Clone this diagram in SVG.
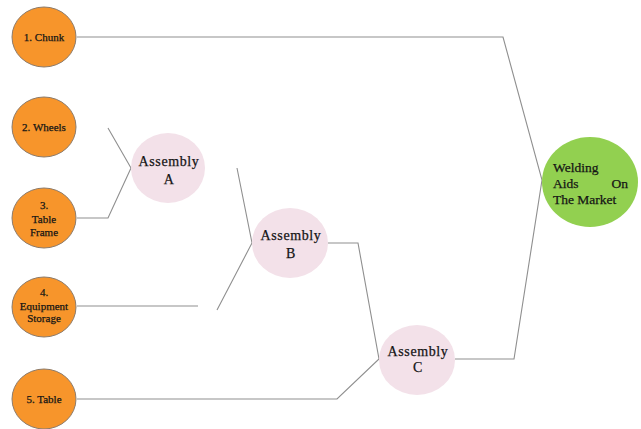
<svg xmlns="http://www.w3.org/2000/svg" width="641" height="429" viewBox="0 0 641 429">
  <style>
    .part { fill: #F7952B; stroke: #8C7B6B; stroke-width: 1; }
    .asm { fill: #F3E1E9; stroke: none; }
    .goal { fill: #92D050; stroke: none; }
    .wire { fill: none; stroke: #8F8F8F; stroke-width: 1.1; }
    text { font-family: "Liberation Serif", "Times New Roman", serif; fill: #151515; stroke: #151515; stroke-width: 0.25px; }
    .pt { font-size: 11px; text-anchor: middle; }
    .at { font-size: 14px; letter-spacing: 0.6px; text-anchor: middle; }
    .gt { font-size: 13.5px; }
  </style>
  <rect width="641" height="429" fill="#ffffff"/>

  <g id="connectors">
    <polyline class="wire" points="77,37 503,37 542,180 514,359 455,359"/>
    <polyline class="wire" points="108,128 131,168 108,218 77,218"/>
    <line class="wire" x1="77" y1="306" x2="198" y2="306"/>
    <polyline class="wire" points="237,168 252,243 217,310"/>
    <polyline class="wire" points="328,243 358,243 379,359 337,399 77,399"/>
  </g>

  <g id="part-1">
    <ellipse class="part" cx="44" cy="37" rx="32" ry="30"/>
    <text class="pt" x="44" y="41">1. Chunk</text>
  </g>
  <g id="part-2">
    <ellipse class="part" cx="44" cy="127" rx="32" ry="30"/>
    <text class="pt" x="44" y="131">2. Wheels</text>
  </g>
  <g id="part-3">
    <ellipse class="part" cx="44" cy="218" rx="32" ry="30"/>
    <text class="pt" x="44" y="209">3.</text>
    <text class="pt" x="44" y="223">Table</text>
    <text class="pt" x="44" y="236">Frame</text>
  </g>
  <g id="part-4">
    <ellipse class="part" cx="44" cy="307" rx="32" ry="30"/>
    <text class="pt" x="44" y="296">4.</text>
    <text class="pt" x="44" y="310">Equipment</text>
    <text class="pt" x="44" y="322">Storage</text>
  </g>
  <g id="part-5">
    <ellipse class="part" cx="44" cy="399" rx="32" ry="30"/>
    <text class="pt" x="44" y="403">5. Table</text>
  </g>

  <g id="assembly-a">
    <ellipse class="asm" cx="168" cy="168" rx="37" ry="35"/>
    <text class="at" x="169" y="166">Assembly</text>
    <text class="at" x="169" y="184">A</text>
  </g>
  <g id="assembly-b">
    <ellipse class="asm" cx="290" cy="243" rx="38" ry="35"/>
    <text class="at" x="291" y="240">Assembly</text>
    <text class="at" x="291" y="258">B</text>
  </g>
  <g id="assembly-c">
    <ellipse class="asm" cx="417" cy="360" rx="38" ry="35"/>
    <text class="at" x="418" y="356">Assembly</text>
    <text class="at" x="418" y="372">C</text>
  </g>

  <g id="welding-aids">
    <ellipse class="goal" cx="590" cy="182" rx="48" ry="45"/>
    <text class="gt" x="553" y="172">Welding</text>
    <text class="gt" x="553" y="188">Aids</text>
    <text class="gt" x="628" y="188" text-anchor="end">On</text>
    <text class="gt" x="553" y="204">The Market</text>
  </g>
</svg>
